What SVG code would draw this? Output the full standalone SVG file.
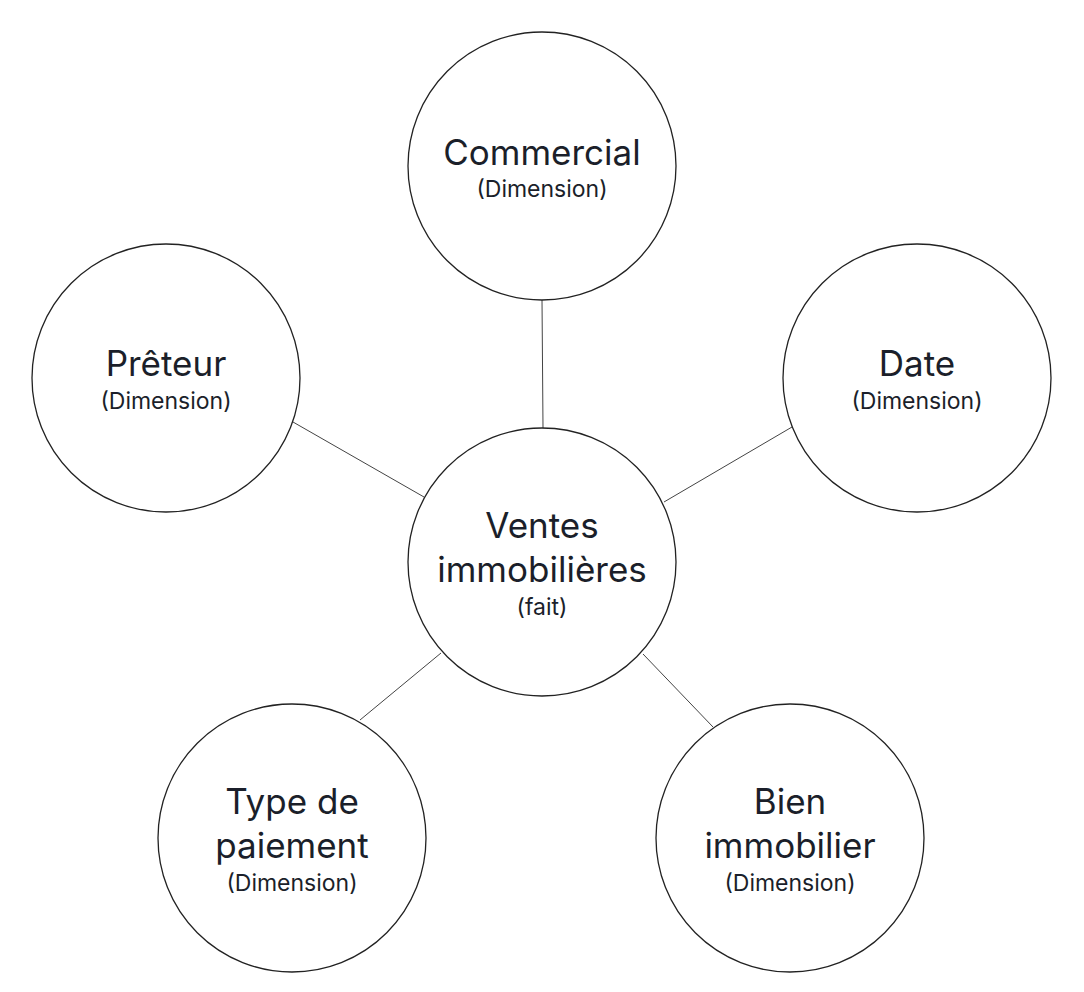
<svg xmlns="http://www.w3.org/2000/svg" width="1084" height="992" viewBox="0 0 1084 992">
<style>
circle{fill:#fff;stroke:#222;stroke-width:1.3}
.t{font-family:Inter,"Noto Sans",sans-serif;font-size:35px;fill:#1b1f2a;text-anchor:middle}
.s{font-family:Inter,"Noto Sans",sans-serif;font-size:23px;fill:#1b1f2a;text-anchor:middle}
#edges line{stroke:#444;stroke-width:1}
</style>
<rect width="1084" height="992" fill="#fff"/>
<g id="edges">
<line x1="542" y1="300" x2="543" y2="428"/>
<line x1="293" y1="422" x2="424" y2="497"/>
<line x1="792" y1="427" x2="664" y2="502"/>
<line x1="360" y1="720" x2="441" y2="653"/>
<line x1="713" y1="727" x2="643" y2="654"/>
</g>
<g id="fait"><circle cx="542" cy="562" r="134"/><text class="t" x="542" y="538">Ventes</text><text class="t" x="542" y="582">immobilières</text><text class="s" x="542" y="615">(fait)</text></g>
<g id="commercial"><circle cx="542" cy="166" r="134"/><text class="t" x="542" y="165">Commercial</text><text class="s" x="542" y="197">(Dimension)</text></g>
<g id="preteur"><circle cx="166" cy="378" r="134"/><text class="t" x="166" y="376">Prêteur</text><text class="s" x="166" y="409">(Dimension)</text></g>
<g id="date"><circle cx="917" cy="378" r="134"/><text class="t" x="917" y="376">Date</text><text class="s" x="917" y="409">(Dimension)</text></g>
<g id="type"><circle cx="292" cy="838" r="134"/><text class="t" x="292" y="814">Type de</text><text class="t" x="292" y="858">paiement</text><text class="s" x="292" y="891">(Dimension)</text></g>
<g id="bien"><circle cx="790" cy="838" r="134"/><text class="t" x="790" y="814">Bien</text><text class="t" x="790" y="858">immobilier</text><text class="s" x="790" y="891">(Dimension)</text></g>
</svg>
